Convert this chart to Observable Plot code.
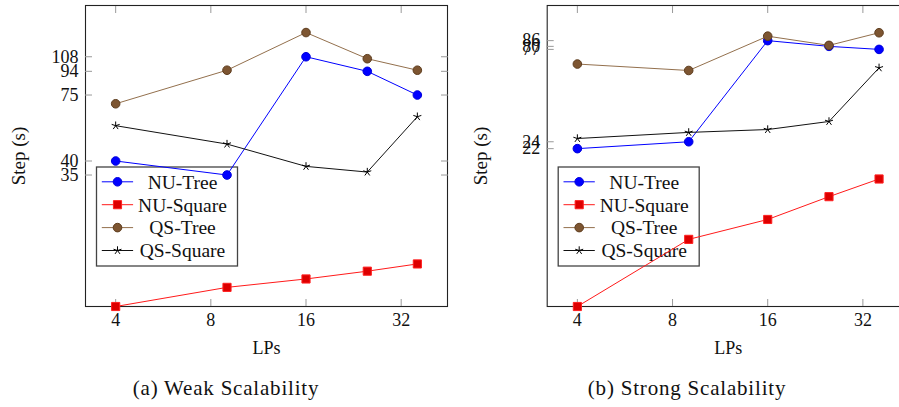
<!DOCTYPE html>
<html><head><meta charset="utf-8">
<script src="https://cdn.jsdelivr.net/npm/d3@7"></script>
<script src="https://cdn.jsdelivr.net/npm/@observablehq/plot@0.6"></script>
<style>
html,body{margin:0;padding:0;background:#fff;overflow:hidden;}
#wrap{position:relative;width:899px;height:407px;overflow:hidden;background:#fff;}
.panel{position:absolute;top:0;}
.panel svg{max-width:none !important;}
.panel svg text{font-family:"Liberation Serif", serif !important;}
.cap{position:absolute;top:376px;font-family:"Liberation Serif";font-size:21px;letter-spacing:0.8px;transform:translateX(-50%);white-space:nowrap;color:#111;}
</style></head><body>
<div id="wrap"></div>
<script>
// ---- data ----
const lps = [4, 9, 16, 25, 36];
const xTicks = [4, 8, 16, 32];
const seriesNames = ["NU-Tree", "NU-Square", "QS-Tree", "QS-Square"];

const weakNUTree   = [40, 35, 108, 94, 75];
const weakNUSquare = [10, 12, 13, 14, 15];
const weakQSTree   = [69, 95, 136, 106, 95];
const weakQSSquare = [56, 47, 38, 36, 61];
const weakTicks    = [35, 40, 75, 94, 108];

const strongNUTree   = [22, 24, 86, 80, 77];
const strongNUSquare = [3, 7, 9, 12, 15];
const strongQSTree   = [64, 59, 91, 81, 95];
const strongQSSquare = [25, 27, 28, 31, 61];
const strongTicks    = [22, 24, 77, 80, 86];

const captions = ["(a) Weak Scalability", "(b) Strong Scalability"];

// ---- styles ----
const FONT = "Liberation Serif";
const star5 = {
  draw(ctx, size) {
    const r = Math.sqrt(size / Math.PI);
    for (let k = 0; k < 5; k++) {
      const a = 2 * Math.PI * k / 5;
      ctx.moveTo(0, 0);
      ctx.lineTo(r * Math.sin(a), -r * Math.cos(a));
    }
  }
};
const styles = {
  "NU-Tree":   {line: "#0000ff", symbol: "circle", r: 4.3, fill: "#0000ff", stroke: "#0000dd", d3sym: d3.symbolCircle},
  "NU-Square": {line: "#ff1a1a", symbol: "square", r: 4.6, fill: "#dd0000", stroke: "#ff2020", d3sym: d3.symbolSquare},
  "QS-Tree":   {line: "#93704d", symbol: "circle", r: 4.3, fill: "#7d5531", stroke: "#5e3d1e", d3sym: d3.symbolCircle},
  "QS-Square": {line: "#111111", symbol: star5,    r: 4.2, fill: "none",    stroke: "#000000", d3sym: star5}
};

function makeRows(vals) {
  return seriesNames.flatMap((s, i) => lps.map((x, j) => ({series: s, lps: x, step: vals[i][j]})));
}

function panel({vals, yDomain, yTicks, left, width, ml}) {
  const rows = makeRows(vals);
  const mr = width - ml - 362;
  const marks = [];
  marks.push(Plot.frame({stroke: "#222", strokeWidth: 1.1}));
  // axes (ticks inward, gray)
  marks.push(Plot.axisX(xTicks, {anchor: "bottom", tickSize: -7, tickPadding: 14, stroke: "#999", fill: "#111",
    fontSize: 18, fontFamily: FONT, tickFormat: d => String(d),
    label: "LPs", labelAnchor: "center", labelOffset: 47, labelArrow: "none"}));
  marks.push(Plot.axisX(xTicks, {anchor: "top", tickSize: -7, tickPadding: 0, stroke: "#999", tickFormat: () => "", label: null}));
  marks.push(Plot.axisY(yTicks, {anchor: "left", tickSize: -7, tickPadding: 0, stroke: "#999", fill: "#111",
    fontFamily: FONT, tickFormat: () => "",
    label: "Step (s)", labelAnchor: "center", labelOffset: 74, labelArrow: "none"}));
  marks.push(Plot.axisY(yTicks, {anchor: "right", tickSize: -7, tickPadding: 0, stroke: "#999", tickFormat: () => "", label: null}));
  marks.push(Plot.text(yTicks, {y: d => d, text: d => String(d), frameAnchor: "left", dx: -7, textAnchor: "end",
    fontSize: 18, fontFamily: FONT, fill: "#111"}));
  for (const s of seriesNames) {
    const st = styles[s];
    const d = rows.filter(r => r.series === s);
    marks.push(Plot.line(d, {x: "lps", y: "step", stroke: st.line, strokeWidth: 1}));
    marks.push(Plot.dot(d, {x: "lps", y: "step", symbol: () => st.symbol, r: st.r, fill: st.fill, stroke: st.stroke, strokeWidth: 1}));
  }
  const svg = Plot.plot({
    width, height: 362,
    marginLeft: ml, marginRight: mr, marginTop: 5, marginBottom: 56,
    style: `font-family: '${FONT}', serif; font-size: 19px; background: transparent; overflow: visible; color: #111; max-width: none;`,
    x: {type: "log", base: 2, domain: [3.211, 44.84]},
    y: {type: "log", domain: yDomain},
    symbol: {type: "identity"},
    marks
  });
  svg.style.maxWidth = "none";
  // legend (drawn beneath the data marks)
  const g = d3.select(svg).insert("g", ":nth-child(2)");
  const x0 = ml + 11.5, y0 = 167, w = 141, h = 99;
  g.append("rect").attr("x", x0).attr("y", y0).attr("width", w).attr("height", h)
    .attr("fill", "white").attr("stroke", "#444").attr("stroke-width", 1.3);
  seriesNames.forEach((s, i) => {
    const st = styles[s];
    const yy = y0 + 14.8 + i * 22.9;
    g.append("line").attr("x1", x0 + 5.3).attr("x2", x0 + 36.6).attr("y1", yy).attr("y2", yy)
      .attr("stroke", st.line).attr("stroke-width", 1);
    const size = Math.PI * st.r * st.r;
    g.append("path").attr("transform", `translate(${x0 + 21},${yy})`)
      .attr("d", d3.symbol(st.d3sym, size)())
      .attr("fill", st.fill).attr("stroke", st.stroke).attr("stroke-width", 1);
    g.append("text").attr("x", x0 + 86).attr("y", yy).attr("dy", "0.35em")
      .attr("text-anchor", "middle").attr("font-family", FONT).attr("font-size", 19.5)
      .attr("fill", "#111").text(s);
  });
  const div = document.createElement("div");
  div.className = "panel";
  div.style.left = left + "px";
  div.style.width = width + "px";
  div.appendChild(svg);
  return div;
}

const wrap = document.getElementById("wrap");
wrap.appendChild(panel({
  vals: [weakNUTree, weakNUSquare, weakQSTree, weakQSSquare],
  yDomain: [10, 176], yTicks: weakTicks, left: 0, width: 450, ml: 85
}));
wrap.appendChild(panel({
  vals: [strongNUTree, strongNUSquare, strongQSTree, strongQSSquare],
  yDomain: [3, 134], yTicks: strongTicks, left: 450, width: 460, ml: 96.7
}));
[[226, captions[0]], [687, captions[1]]].forEach(([cx, t]) => {
  const c = document.createElement("div");
  c.className = "cap";
  c.style.left = cx + "px";
  c.textContent = t;
  wrap.appendChild(c);
});
</script>
</body></html>
